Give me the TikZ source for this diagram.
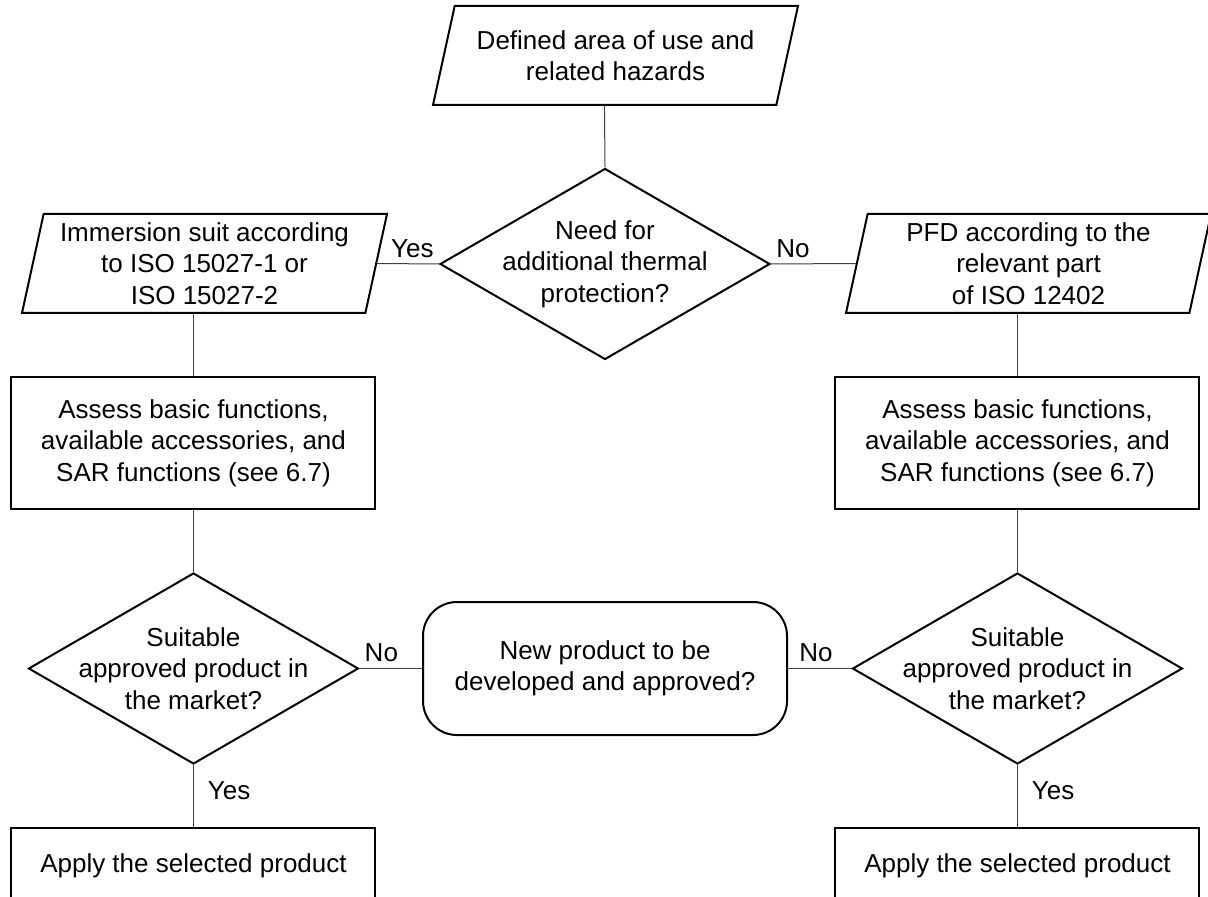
\documentclass[tikz,border=0pt]{standalone}
\usepackage{fontspec}
\setmainfont{Liberation Sans}
\usetikzlibrary{positioning, shapes.geometric}
\tikzset{
  podatak/.style = {trapezium, trapezium left angle=77, trapezium right angle=103,
                    trapezium stretches body=true, draw, line width=1pt, align=center,
                    minimum width=182.5pt, minimum height=49.5pt, inner ysep=#1},
  podatak/.default = 2.95pt,
  odluka/.style  = {diamond, draw, line width=1pt, align=center, shape aspect=1.72,
                    minimum width=165pt, minimum height=95.5pt,
                    inner xsep=-16pt, inner ysep=0pt},
  korak/.style   = {rectangle, draw, line width=1pt, align=center,
                    minimum width=182pt, minimum height=66pt},
  pitanje/.style = {korak, rounded corners=17pt, minimum height=66.5pt},
  ishod/.style   = {rectangle, draw, line width=1pt, minimum width=182pt,
                    inner ysep=0pt, text height=22pt, text depth=30pt},
  veza/.style    = {draw=black!75, line width=0.5pt},
  oznaka/.style  = {inner sep=3pt},
}

\begin{document}
\begin{tikzpicture}[x=0.5pt, y=-0.5pt, font=\fontsize{13}{15.7}\selectfont]
  \useasboundingbox (0,0) rectangle (1208,897);
  \clip (0,0) rectangle (1208,897);

  \node[podatak=10.85pt] (ulaz) at (615.5,55.5) {Defined area of use and\\related hazards};
  \node[odluka]  (uslov) at (605,264)     {Need for\\additional thermal\\protection?};
  \node[podatak] (odelo) at (204.5,263.5) {Immersion suit according\\to ISO 15027-1 or\\ISO 15027-2};
  \node[podatak] (pfd)   at (1028.5,263.5) {PFD according to the\\relevant part\\of ISO 12402};

  \node[korak, below=31pt of odelo.bottom side] (procL) {Assess basic functions,\\available accessories, and\\SAR functions (see 6.7)};
  \node[korak, below=31pt of pfd.bottom side]   (procD) {Assess basic functions,\\available accessories, and\\SAR functions (see 6.7)};

  \node[odluka, below=31pt of procL] (odlL) {Suitable\\approved product in\\the market?};
  \node[odluka, below=31pt of procD] (odlD) {Suitable\\approved product in\\the market?};
  \node[pitanje] (novi) at (605,668.5) {New product to be\\developed and approved?};

  \node[ishod, below=31pt of odlL] (primL) {Apply the selected product};
  \node[ishod, below=31pt of odlD] (primD) {Apply the selected product};

  \draw[veza] (ulaz.bottom side) -- (uslov.north);
  \draw[veza] (uslov.west) -- node[oznaka, pos=0.43, above] {Yes} (odelo.right side);
  \draw[veza] (uslov.east) -- node[oznaka, pos=0.26, above] {No} (pfd.left side);
  \draw[veza] (odelo.bottom side) -- (procL.north);
  \draw[veza] (pfd.bottom side) -- (procD.north);
  \draw[veza] (procL.south) -- (odlL.north);
  \draw[veza] (procD.south) -- (odlD.north);
  \draw[veza] (odlL.east) -- node[oznaka, pos=0.35, above] {No} (novi.west);
  \draw[veza] (novi.east) -- node[oznaka, pos=0.44, above] {No} (odlD.west);
  \draw[veza] (odlL.south) -- node[oznaka, pos=0.42, right=4pt] {Yes} (primL.north);
  \draw[veza] (odlD.south) -- node[oznaka, pos=0.42, right=4pt] {Yes} (primD.north);
\end{tikzpicture}
\end{document}
